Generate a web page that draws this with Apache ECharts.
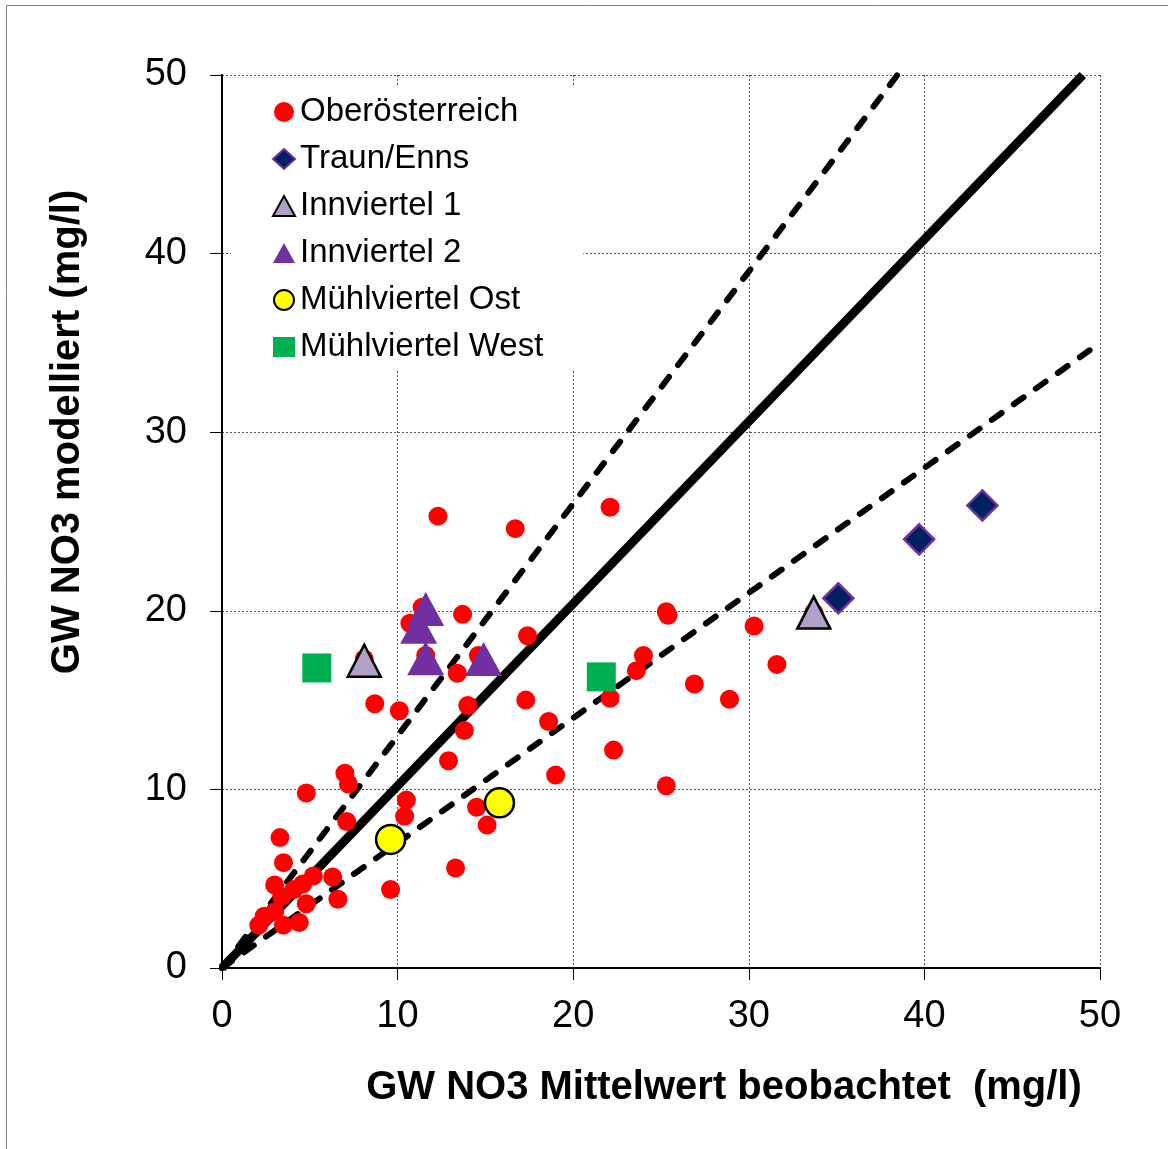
<!DOCTYPE html>
<html>
<head>
<meta charset="utf-8">
<title>GW NO3 modelliert vs. beobachtet</title>
<script src="https://cdn.jsdelivr.net/npm/echarts@6/dist/echarts.min.js"></script>
<style>
  html, body { margin: 0; padding: 0; background: #ffffff; }
  #chart { width: 1168px; height: 1149px; }
</style>
</head>
<body>
<div id="chart"></div>
<script>
// Axis ticks (mg/l)
const axisTicks = [0, 10, 20, 30, 40, 50];

// Observed mean [x] vs. modelled [y] nitrate, mg/l
const oberoesterreich = [
  [12.3, 25.3], [16.7, 24.6], [22.1, 25.8], [13.7, 19.8], [17.4, 18.6],
  [14.6, 17.5], [13.4, 16.5], [8.7, 14.8], [10.1, 14.4], [14.0, 14.7],
  [17.3, 15.0], [18.6, 13.8], [13.8, 13.3], [12.9, 11.6], [19.0, 10.8],
  [7.0, 10.9], [7.2, 10.3], [4.8, 9.8], [10.5, 9.4], [10.4, 8.5],
  [7.1, 8.2], [14.5, 9.0], [15.1, 8.0], [3.3, 7.3], [3.5, 5.9],
  [13.3, 5.6], [9.6, 4.4],
  [3.0, 4.65], [4.1, 4.4], [4.6, 4.7], [5.2, 5.15], [6.3, 5.1],
  [3.4, 4.0], [4.8, 3.6], [6.6, 3.85], [3.0, 3.15], [2.4, 2.9],
  [2.1, 2.4], [3.5, 2.4], [4.4, 2.55],
  [11.4, 20.2], [10.7, 19.3], [11.6, 17.5], [8.1, 17.3], [33.7, 19.9],
  [25.3, 19.95], [25.4, 19.75], [30.3, 19.15], [31.6, 17.0], [24.0, 17.5],
  [23.6, 16.65], [22.1, 15.1], [26.9, 15.9], [28.9, 15.05], [22.3, 12.2],
  [25.3, 10.2]
];
const traunEnns = [[35.1, 20.7], [39.7, 24.0], [43.3, 25.9]];
const innviertel1 = [[8.1, 17.2], [33.7, 19.9]];
const innviertel2 = [[11.6, 20.1], [11.2, 19.1], [11.6, 17.35], [14.9, 17.3]];
const muehlviertelOst = [[9.6, 7.2], [15.8, 9.25]];
const muehlviertelWest = [[5.4, 16.8], [21.6, 16.3]];

// Reference lines through the origin: y = k * x
const refSlopes = { fit: 1.02, upper: 1.3, lower: 0.7 };

const AX_MAX = 50;
function refLine(k) {
  const xEnd = Math.min(AX_MAX, AX_MAX / k);
  return [[0, 0], [xEnd, xEnd * k]];
}

const FONT = '"Liberation Sans", Arial, Helvetica, sans-serif';

const chart = echarts.init(document.getElementById('chart'), null, { renderer: 'canvas' });

const axisCommon = {
  type: 'value',
  min: 0,
  max: 50,
  interval: 10,
  axisLine: { show: true, onZero: false, lineStyle: { color: '#000', width: 2 } },
  axisTick: { show: true, inside: false, length: 12, lineStyle: { color: '#000', width: 1 } },
  splitLine: { show: true, lineStyle: { color: '#555', width: 1, type: [2, 2] } },
  axisLabel: {
    color: '#000', fontSize: 38, fontFamily: FONT,
    formatter: v => (axisTicks.indexOf(v) >= 0 ? String(v) : '')
  }
};

const option = {
  backgroundColor: '#ffffff',
  animation: false,
  grid: { left: 222, top: 75, width: 878, height: 893, containLabel: false, outerBoundsMode: 'none' },
  xAxis: Object.assign({}, axisCommon, {
    axisLabel: Object.assign({}, axisCommon.axisLabel, { margin: 30 })
  }),
  yAxis: Object.assign({}, axisCommon, {
    axisLabel: Object.assign({}, axisCommon.axisLabel, { margin: 35 })
  }),
  legend: {
    orient: 'vertical',
    left: 231,
    top: 87,
    padding: [7, 40, 4, 41],
    backgroundColor: '#ffffff',
    itemWidth: 22,
    itemHeight: 20,
    itemGap: 11,
    selectedMode: false,
    textStyle: { color: '#000', fontSize: 33, lineHeight: 36, fontFamily: FONT },
    data: ['Oberösterreich', 'Traun/Enns', 'Innviertel 1', 'Innviertel 2', 'Mühlviertel Ost', 'Mühlviertel West']
  },
  series: [
    {
      type: 'line', name: 'fit', data: refLine(refSlopes.fit), showSymbol: false, silent: true, z: 1,
      lineStyle: { color: '#000', width: 9 }
    },
    {
      type: 'line', name: '+30%', data: refLine(refSlopes.upper), showSymbol: false, silent: true, z: 1,
      lineStyle: { color: '#000', width: 6, type: [12, 15], cap: 'round' }
    },
    {
      type: 'line', name: '-30%', data: refLine(refSlopes.lower), showSymbol: false, silent: true, z: 1,
      lineStyle: { color: '#000', width: 6, type: [12, 15], cap: 'round' }
    },
    {
      type: 'scatter', name: 'Oberösterreich', data: oberoesterreich, z: 3,
      symbol: 'circle', symbolSize: 19,
      itemStyle: { color: '#ff0000', opacity: 1 }
    },
    {
      type: 'scatter', name: 'Traun/Enns', data: traunEnns, z: 4,
      symbol: 'diamond', symbolSize: 30,
      itemStyle: { color: '#002060', borderColor: '#7030a0', borderWidth: 2.5, opacity: 1 }
    },
    {
      type: 'scatter', name: 'Innviertel 1', data: innviertel1, z: 4,
      symbol: 'triangle', symbolSize: [33, 32],
      itemStyle: { color: '#b1a0c7', borderColor: '#000', borderWidth: 2.5, opacity: 1 }
    },
    {
      type: 'scatter', name: 'Innviertel 2', data: innviertel2, z: 4,
      symbol: 'triangle', symbolSize: [37, 34],
      itemStyle: { color: '#7030a0', opacity: 1 }
    },
    {
      type: 'scatter', name: 'Mühlviertel Ost', data: muehlviertelOst, z: 4,
      symbol: 'circle', symbolSize: 29,
      itemStyle: { color: '#ffff00', borderColor: '#000', borderWidth: 2.5, opacity: 1 }
    },
    {
      type: 'scatter', name: 'Mühlviertel West', data: muehlviertelWest, z: 4,
      symbol: 'rect', symbolSize: 29,
      itemStyle: { color: '#00b050', opacity: 1 }
    }
  ],
  graphic: [
    {
      type: 'rect', silent: true, z: -10,
      shape: { x: 6.5, y: 5.5, width: 1170, height: 1160 },
      style: { fill: null, stroke: '#808080', lineWidth: 1 }
    },
    {
      type: 'text', silent: true,
      x: 68, y: 432, rotation: Math.PI / 2,
      style: {
        text: 'GW NO3 modelliert (mg/l)',
        fontSize: 40, fontWeight: 'bold', fontFamily: FONT, fill: '#000',
        textAlign: 'center', textVerticalAlign: 'middle'
      }
    },
    {
      type: 'text', silent: true,
      x: 724, y: 1088,
      style: {
        text: 'GW NO3 Mittelwert beobachtet  (mg/l)',
        fontSize: 40, fontWeight: 'bold', fontFamily: FONT, fill: '#000',
        textAlign: 'center', textVerticalAlign: 'middle'
      }
    }
  ]
};

chart.setOption(option);
</script>
</body>
</html>
